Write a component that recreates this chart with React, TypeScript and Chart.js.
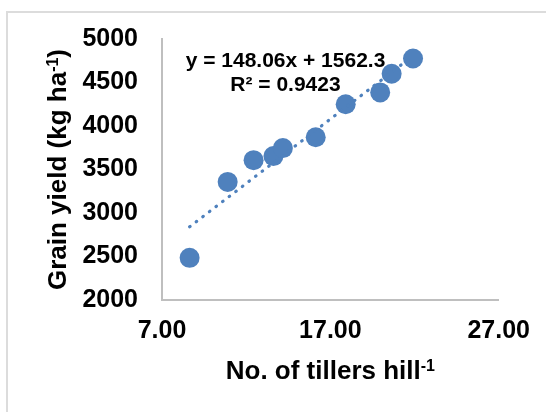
import React, { useEffect, useRef } from "react";
import { Chart, registerables } from "chart.js";

Chart.register(...registerables);

// Tillers per hill vs. grain yield
const tillers = [8.64, 10.9, 12.44, 13.62, 14.18, 16.13, 17.91, 19.96, 20.64, 21.91];
const grainYield = [2485, 3357, 3607, 3654, 3746, 3871, 4250, 4386, 4600, 4776];

// Linear trend fitted to the points
const slope = 148.06;
const intercept = 1562.3;
const rSquared = 0.9423;

// Axis ranges
const xRange = [7, 27];
const xStep = 10;
const yRange = [2000, 5000];
const yStep = 500;

const FONT = '"Liberation Sans", Arial, Helvetica, sans-serif';
const POINT_BLUE = "#4F81BD";
const AXIS_GREY = "#BFBFBF";

type Segment = [string, boolean];

// Draws bold text with optional superscript runs, centred on (cx, baseline)
function drawRich(
  ctx: CanvasRenderingContext2D,
  segments: Segment[],
  size: number,
  cx: number,
  baseline: number,
  angle: number
) {
  const supSize = Math.round(size * 0.6);
  ctx.save();
  ctx.translate(cx, baseline);
  ctx.rotate(angle);
  ctx.fillStyle = "#000";
  ctx.textAlign = "left";
  ctx.textBaseline = "alphabetic";
  let total = 0;
  const widths = segments.map(([t, sup]) => {
    ctx.font = `bold ${sup ? supSize : size}px ${FONT}`;
    const w = ctx.measureText(t).width;
    total += w;
    return w;
  });
  let x = -total / 2;
  segments.forEach(([t, sup], i) => {
    ctx.font = `bold ${sup ? supSize : size}px ${FONT}`;
    ctx.fillText(t, x, sup ? -size * 0.3 : 0);
    x += widths[i];
  });
  ctx.restore();
}

const annotations = {
  id: "annotations",
  afterDraw(chart: Chart) {
    const { ctx, chartArea } = chart;
    const { left, right, top, bottom } = chartArea;
    const midX = (left + right) / 2;
    const midY = (top + bottom) / 2;

    // axis titles
    drawRich(ctx, [["No. of tillers hill", false], ["-1", true]], 26, midX, bottom + 79, 0);
    drawRich(
      ctx,
      [["Grain yield (kg ha", false], ["-1", true], [")", false]],
      26,
      66,
      midY,
      -Math.PI / 2
    );

    // trendline equation
    const eqX = left + 123.5;
    drawRich(ctx, [[`y = ${slope}x + ${intercept}`, false]], 21, eqX, top + 28, 0);
    drawRich(ctx, [[`R² = ${rSquared}`, false]], 21, eqX, top + 52, 0);
  },
};

export default function App() {
  const canvasRef = useRef<HTMLCanvasElement | null>(null);

  useEffect(() => {
    const canvas = canvasRef.current;
    if (!canvas) return;

    const points = tillers.map((x, i) => ({ x, y: grainYield[i] }));
    const xMin = Math.min(...tillers);
    const xMax = Math.max(...tillers);
    const trend = [xMin, xMax].map((x) => ({ x, y: slope * x + intercept }));

    const chart = new Chart(canvas, {
      type: "scatter",
      data: {
        datasets: [
          {
            type: "line",
            label: "Linear trend",
            data: trend,
            borderColor: POINT_BLUE,
            borderWidth: 3.2,
            borderDash: [0.6, 7.7],
            borderCapStyle: "round",
            pointRadius: 0,
            fill: false,
          },
          {
            label: "Grain yield",
            data: points,
            backgroundColor: POINT_BLUE,
            borderColor: POINT_BLUE,
            borderWidth: 0,
            pointRadius: 10,
          },
        ],
      },
      options: {
        responsive: false,
        animation: false,
        devicePixelRatio: 1,
        layout: { padding: { left: 0, right: 45, top: 27, bottom: 0 } },
        plugins: {
          legend: { display: false },
          tooltip: { enabled: false },
        },
        scales: {
          x: {
            type: "linear",
            min: xRange[0],
            max: xRange[1],
            grid: { display: false, drawTicks: false },
            border: { display: true, color: AXIS_GREY, width: 2 },
            ticks: {
              stepSize: xStep,
              color: "#000",
              padding: 16,
              font: { family: FONT, size: 25, weight: "bold" },
              callback: (v: number | string) => Number(v).toFixed(2),
            },
            afterFit: (scale: any) => {
              scale.height = 112;
            },
          },
          y: {
            type: "linear",
            min: yRange[0],
            max: yRange[1],
            grid: { display: false, drawTicks: false },
            border: { display: true, color: AXIS_GREY, width: 2 },
            ticks: {
              stepSize: yStep,
              color: "#000",
              padding: 24,
              font: { family: FONT, size: 25, weight: "bold" },
              callback: (v: number | string) => String(v),
            },
            afterFit: (scale: any) => {
              scale.width = 162;
            },
          },
        },
      },
      plugins: [annotations],
    });

    return () => chart.destroy();
  }, []);

  return (
    <div style={{ position: "fixed", left: 0, top: 0, width: 546, height: 412, background: "#fff" }}>
      <div
        style={{
          position: "absolute",
          left: 6,
          top: 11,
          width: 580,
          height: 440,
          border: "2px solid #DCDCDC",
          boxSizing: "border-box",
        }}
      />
      <canvas
        ref={canvasRef}
        width={546}
        height={412}
        style={{ position: "absolute", left: 0, top: 0, display: "block" }}
      />
    </div>
  );
}
